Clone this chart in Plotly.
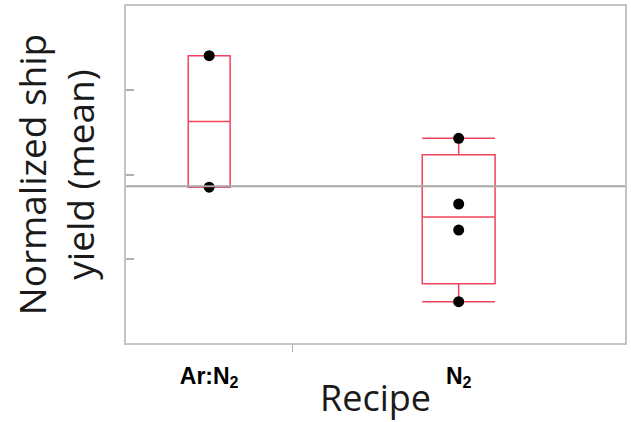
import plotly.graph_objects as go
import numpy as np

# Data
categories = ["Ar:N2", "N2"]
cat_labels = ["<b>Ar:N<sub>2</sub></b>", "<b>N<sub>2</sub></b>"]
arn2_values = [1.141, 0.985]
n2_values = [1.043, 0.965, 0.934, 0.849]
y_ticks = [0.9, 1.0, 1.1]

series = [arn2_values, n2_values]
counts = [len(v) for v in series]
total = sum(counts)
# JMP-style: each category gets axis width proportional to its count
edges = np.concatenate([[0], np.cumsum(counts)])
centers = [(edges[i] + edges[i + 1]) / 2 for i in range(len(counts))]
box_widths = [0.504, 0.876]

def quantile_np1(vals, p):
    s = sorted(vals)
    n = len(s)
    pos = (n + 1) * p
    if pos <= 1:
        return s[0]
    if pos >= n:
        return s[-1]
    lo = int(np.floor(pos))
    frac = pos - lo
    return s[lo - 1] + frac * (s[lo] - s[lo - 1])

BOX_COLOR = "rgb(242,68,94)"
fig = go.Figure()
for i, vals in enumerate(series):
    q1 = quantile_np1(vals, 0.25)
    q3 = quantile_np1(vals, 0.75)
    med = float(np.median(vals))
    fig.add_trace(go.Box(
        x=[centers[i]], q1=[q1], median=[med], q3=[q3],
        lowerfence=[min(vals)], upperfence=[max(vals)],
        width=box_widths[i], whiskerwidth=1,
        line=dict(color=BOX_COLOR, width=1.5),
        fillcolor="rgba(0,0,0,0)", boxpoints=False,
        showlegend=False, hoverinfo="skip",
    ))
    fig.add_trace(go.Scatter(
        x=[centers[i]] * len(vals), y=vals, mode="markers",
        marker=dict(color="black", size=11),
        showlegend=False,
    ))

grand_mean = float(np.mean(arn2_values + n2_values))
fig.add_shape(type="line", xref="paper", x0=0, x1=1, yref="y",
              y0=grand_mean, y1=grand_mean,
              line=dict(color="#a8a8a8", width=2))

axis_line = "#c4c4c4"
fig.update_layout(
    width=631, height=422,
    margin=dict(l=126, r=6, t=6, b=79),
    plot_bgcolor="white", paper_bgcolor="white",
    xaxis=dict(
        range=[0, total], tickvals=centers, ticktext=cat_labels,
        ticks="", showgrid=False, zeroline=False, ticklabelstandoff=11,
        automargin=False,
        showline=True, linecolor=axis_line, linewidth=2, mirror=True,
        tickfont=dict(family="Liberation Sans, Arial", size=23, color="black"),
        minor=dict(tickvals=[edges[1]], ticks="outside", ticklen=7,
                   tickcolor="#b0b0b0", tickwidth=1, showgrid=False),
        title=dict(text="Recipe", standoff=4,
                   font=dict(family="Open Sans", size=36, color="#1a1a1a")),
    ),
    yaxis=dict(
        range=[0.8, 1.2], tickvals=y_ticks, showticklabels=False,
        ticks="inside", ticklen=8, tickcolor="#b0b0b0", tickwidth=1.5,
        showgrid=False, zeroline=False, automargin=False,
        showline=True, linecolor=axis_line, linewidth=2, mirror=True,
        title=dict(text="Normalized ship<br>yield (mean)", standoff=18,
                   font=dict(family="Open Sans", size=37, color="#1a1a1a")),
    ),
)
fig.write_html("out.html")
